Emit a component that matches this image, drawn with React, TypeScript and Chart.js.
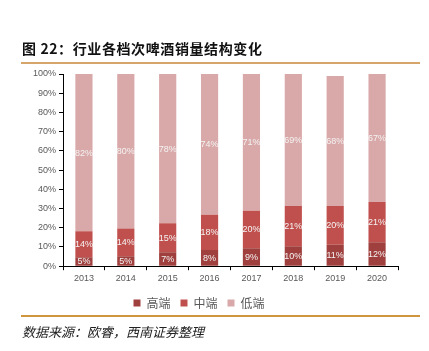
import React, { useEffect, useRef } from "react";
import { Chart, registerables } from "chart.js";

Chart.register(...registerables);

const years = ["2013", "2014", "2015", "2016", "2017", "2018", "2019", "2020"];
const highEnd = [4.7, 5.2, 7.3, 8.4, 9.4, 10.4, 11.2, 12.4];
const midEnd = [13.5, 14.4, 15.0, 18.4, 19.5, 20.9, 20.1, 21.0];
const lowEnd = [81.8, 80.4, 77.7, 73.5, 71.1, 68.7, 67.6, 66.6];
const seriesNames = ["高端", "中端", "低端"];
const yTicks = [0, 10, 20, 30, 40, 50, 60, 70, 80, 90, 100];

const labelPlugin = {
  id: "segLabels",
  afterDatasetsDraw(chart: any) {
    const ctx = chart.ctx;
    ctx.save();
    ctx.font = '9px "Liberation Sans", Arial, sans-serif';
    ctx.fillStyle = "#f4f4f4";
    ctx.textAlign = "center";
    ctx.textBaseline = "middle";
    chart.data.datasets.forEach((ds: any, i: number) => {
      const meta = chart.getDatasetMeta(i);
      meta.data.forEach((bar: any, j: number) => {
        const v = ds.data[j];
        const cy = (bar.y + bar.base) / 2;
        ctx.fillText(Math.round(v) + "%", bar.x, cy + 0.5);
      });
    });
    ctx.restore();
  },
};

export default function App() {
  const ref = useRef<HTMLCanvasElement>(null);
  useEffect(() => {
    document.body.style.margin = "0";
    Chart.defaults.font.family = '"Liberation Sans", "Noto Sans CJK SC", sans-serif';
    const chart = new Chart(ref.current!, {
      type: "bar",
      data: {
        labels: years,
        datasets: [
          { label: seriesNames[0], data: highEnd, backgroundColor: "#a0403e" },
          { label: seriesNames[1], data: midEnd, backgroundColor: "#c0504d" },
          { label: seriesNames[2], data: lowEnd, backgroundColor: "#d9a8a8" },
        ],
      },
      options: {
        animation: false,
        responsive: false,
        maintainAspectRatio: false,
        layout: { padding: { left: 0, right: 31, top: 74, bottom: 32 } },
        datasets: { bar: { barPercentage: 0.5, categoryPercentage: 0.82 } },
        plugins: {
          tooltip: { enabled: false },
          legend: {
            position: "bottom",
            labels: {
              boxWidth: 7,
              boxHeight: 7,
              padding: 10,
              color: "#595959",
              font: { size: 12, family: '"Noto Sans CJK SC", sans-serif' },
            },
          },
        },
        scales: {
          x: {
            stacked: true,
            grid: {
              display: true,
              drawOnChartArea: false,
              drawTicks: true,
              tickLength: 4,
              color: "#000000",
              offset: true,
            },
            border: { color: "#000000", width: 1 },
            ticks: { color: "#595959", font: { size: 9 }, padding: 3 },
          },
          y: {
            stacked: true,
            min: 0,
            max: 100,
            afterFit(scale: any) {
              scale.width = 63;
            },
            afterBuildTicks(scale: any) {
              scale.ticks = yTicks.map((v) => ({ value: v }));
            },
            grid: {
              display: true,
              drawOnChartArea: false,
              drawTicks: true,
              tickLength: 4,
              color: "#000000",
            },
            border: { color: "#000000", width: 1 },
            ticks: {
              color: "#595959",
              font: { size: 9 },
              padding: 3,
              callback: (v: any) => v + "%",
            },
          },
        },
      },
      plugins: [labelPlugin],
    });
    return () => chart.destroy();
  }, []);

  return (
    <div style={{ position: "relative", width: 429, height: 351, background: "#fff" }}>
      <canvas ref={ref} width={429} height={351} style={{ position: "absolute", left: 0, top: 0 }} />
      <div
        style={{
          position: "absolute",
          left: 22,
          top: 39,
          fontFamily: '"Noto Sans CJK SC", sans-serif',
          fontWeight: 700,
          fontSize: 14,
          lineHeight: "18px",
          letterSpacing: "0.6px",
          color: "#111",
          whiteSpace: "nowrap",
        }}
      >
        图 22：行业各档次啤酒销量结构变化
      </div>
      <div style={{ position: "absolute", left: 21, top: 62, width: 399, height: 2, background: "#d6a56c" }} />
      <div style={{ position: "absolute", left: 21, top: 315, width: 399, height: 2, background: "#d0953f" }} />
      <div
        style={{
          position: "absolute",
          left: 22,
          top: 323,
          fontFamily: '"Noto Sans CJK SC", serif',
          fontStyle: "italic",
          fontSize: 13,
          lineHeight: "18px",
          color: "#222",
          whiteSpace: "nowrap",
        }}
      >
        数据来源：欧睿，西南证券整理
      </div>
    </div>
  );
}
